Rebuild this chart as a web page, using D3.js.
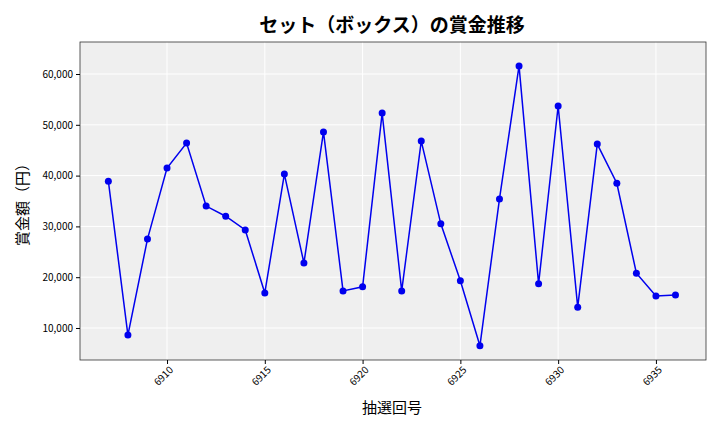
<!DOCTYPE html>
<meta charset="utf-8">
<body style="margin:0;background:#fff">
<script src="https://d3js.org/d3.v7.min.js"></script>
<script>
// draw numbers and prize values
const draws = d3.range(6907, 6937);
const prizes = [38900, 8600, 27500, 41500, 46400, 34000, 32000, 29300, 16900, 40300,
                22800, 48600, 17300, 18100, 52300, 17300, 46800, 30500, 19300, 6500,
                35400, 61600, 18700, 53700, 14100, 46200, 38500, 20800, 16300, 16500];
const xTicks = [6910, 6915, 6920, 6925, 6930, 6935];
const yTicks = [10000, 20000, 30000, 40000, 50000, 60000];

const margin = {top: 42, right: 14, bottom: 72, left: 80};
const width = 720 - margin.left - margin.right;
const height = 432 - margin.top - margin.bottom;
const font = "'Noto Sans CJK JP', 'Noto Sans', sans-serif";

const root = d3.select("body").append("svg").attr("width", 720).attr("height", 432)
  .style("font-family", font);
const svg = root.append("g").attr("transform", "translate(" + margin.left + "," + margin.top + ")");

const x = d3.scaleLinear().domain([6905.55, 6937.56]).range([0, width]);
const y = d3.scaleLinear().domain([3700, 66300]).range([height, 0]);

svg.append("rect").attr("width", width).attr("height", height).attr("fill", "#efefef");

// grid
svg.selectAll(".gx").data(xTicks).join("line")
  .attr("x1", d => x(d)).attr("x2", d => x(d)).attr("y1", 0).attr("y2", height)
  .attr("stroke", "#fff").attr("stroke-width", 1);
svg.selectAll(".gy").data(yTicks).join("line")
  .attr("y1", d => y(d)).attr("y2", d => y(d)).attr("x1", 0).attr("x2", width)
  .attr("stroke", "#fff").attr("stroke-width", 1);

svg.append("rect").attr("width", width).attr("height", height)
  .attr("fill", "none").attr("stroke", "#333").attr("stroke-width", 0.8);

const xAxis = svg.append("g").attr("transform", "translate(0," + height + ")")
  .call(d3.axisBottom(x).tickValues(xTicks).tickFormat(d3.format("d")).tickSize(4));
xAxis.select(".domain").remove();
xAxis.selectAll("text").style("font-size", "10px").style("font-family", font)
  .style("text-anchor", "end").attr("dx", "-.3em").attr("dy", ".5em")
  .attr("transform", "rotate(-45)");

const yAxis = svg.append("g")
  .call(d3.axisLeft(y).tickValues(yTicks).tickFormat(d3.format(",")).tickSize(4));
yAxis.select(".domain").remove();
yAxis.selectAll("text").style("font-size", "10px").style("font-family", font);

const line = d3.line().x((d, i) => x(draws[i])).y(d => y(d));
svg.append("path").datum(prizes).attr("d", line)
  .attr("fill", "none").attr("stroke", "#0000ee").attr("stroke-width", 1.5);
svg.selectAll(".pt").data(prizes).join("circle")
  .attr("cx", (d, i) => x(draws[i])).attr("cy", d => y(d)).attr("r", 3.5)
  .attr("fill", "#0000ee");

root.append("text").attr("x", 392).attr("y", 32).attr("text-anchor", "middle")
  .style("font-size", "19px").style("font-weight", "bold").text("セット（ボックス）の賞金推移");
root.append("text").attr("x", 392).attr("y", 413).attr("text-anchor", "middle")
  .style("font-size", "15px").text("抽選回号");
root.append("text").attr("transform", "translate(28," + (margin.top + height / 2) + ") rotate(-90)")
  .attr("text-anchor", "middle").style("font-size", "15px").text("賞金額（円）");
</script>
</body>
